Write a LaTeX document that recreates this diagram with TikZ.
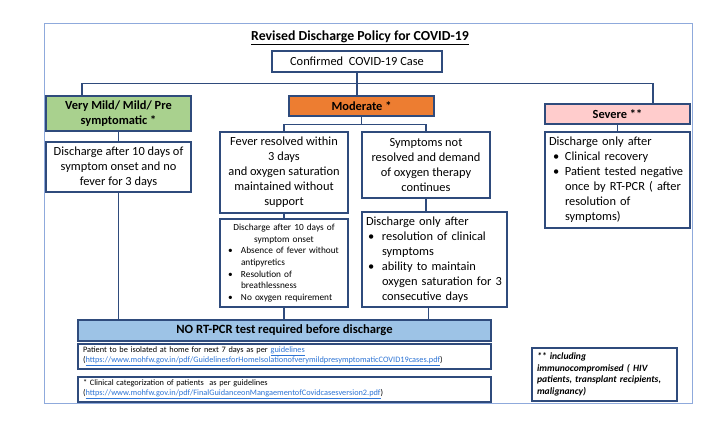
\documentclass[tikz,border=0pt]{standalone}
\usepackage{fontspec}
\setmainfont{Carlito}
\definecolor{navy}{HTML}{2F4B7C}
\definecolor{frameblue}{HTML}{8FAADC}
\definecolor{mildgreen}{HTML}{A9D18E}
\definecolor{modorange}{HTML}{ED7D31}
\definecolor{sevpink}{HTML}{FFCCCC}
\definecolor{pcrblue}{HTML}{9DC3E6}
\definecolor{linkblue}{HTML}{2E75D6}
% bullet: indent, then bullet box of given width
\newcommand{\bl}[2]{\hspace*{#1}\makebox[#2][l]{\textbullet}}
\newcommand{\link}[1]{\textcolor{linkblue}{\underline{#1}}}

\begin{document}
\begin{tikzpicture}[x=1pt,y=-1pt,
  box/.style={draw=navy,line width=1.5pt,fill=white,inner sep=2pt,align=center,
    font=\fontsize{12.4}{15}\selectfont},
  head/.style={box,font=\fontsize{12.4}{15}\selectfont\bfseries},
  list/.style={box,align=left,inner xsep=4pt},
  note/.style={box,align=left,inner xsep=5pt,font=\fontsize{8.3}{10}\selectfont},
  conn/.style={navy,line width=1.5pt}]
% FRAME
\useasboundingbox (0,0) rectangle (713,430);
\draw [frameblue,line width=1pt,fill=white] (44,24) rectangle (692,404);
% TITLE AND ROOT
\node (title) at (360,38) {\fontsize{13.8}{15}\selectfont\bfseries\underline{Revised Discharge Policy for COVID-19}};
\node [box,minimum width=170pt,minimum height=21pt] (conf) at (357,61.5) {Confirmed\ \ COVID-19 Case};
% CATEGORIES
\node [head,fill=mildgreen,minimum width=145pt,minimum height=35pt] (mild) at (118.5,113.5) {Very Mild/ Mild/ Pre\\symptomatic *};
\node [head,fill=modorange,minimum width=145pt,minimum height=20pt] (mod) at (361.5,106) {Moderate *};
\node [head,fill=sevpink,minimum width=145pt,minimum height=20pt] (sev) at (617.5,114) {Severe **};
% MILD BRANCH
\node [box,minimum width=145pt,minimum height=50pt] (ldis) at (118.5,167) {Discharge after 10 days of\\symptom onset and no\\fever for 3 days};
% MODERATE BRANCH
\node [box,minimum width=128pt,minimum height=81pt] (fever) at (284,172.5) {Fever resolved within\\3 days\\and oxygen saturation\\maintained without\\support};
\node [box,minimum width=128pt,minimum height=66pt] (symp) at (426,165) {Symptoms not\\resolved and demand\\of oxygen therapy\\continues};
\node [box,align=left,text width=124pt,minimum height=88pt,font=\fontsize{9.3}{11.7}\selectfont] (mdis) at (284,263) {\makebox[124pt]{Discharge after 10 days of}\\\makebox[124pt]{symptom onset}\\
  \bl{6pt}{13pt}Absence of fever without\\\hspace*{19pt}antipyretics\\
  \bl{6pt}{13pt}Resolution of\\\hspace*{19pt}breathlessness\\
  \bl{6pt}{13pt}No oxygen requirement};
\node [list,text width=137pt,minimum height=95pt] (rdis) at (434.5,259.5) {Discharge only after\\
  \bl{2pt}{14pt}resolution of clinical\\\hspace*{16pt}symptoms\\
  \bl{2pt}{14pt}ability to maintain\\\hspace*{16pt}oxygen saturation for 3\\\hspace*{16pt}consecutive days};
% SEVERE BRANCH
\node [list,text width=137pt,minimum height=96pt] (sdis) at (617.5,180) {Discharge only after\\
  \bl{4pt}{12pt}Clinical recovery\\
  \bl{4pt}{12pt}Patient tested negative\\\hspace*{16pt}once by RT-PCR ( after\\\hspace*{16pt}resolution of\\\hspace*{16pt}symptoms)};
% BOTTOM BOXES
\node [head,fill=pcrblue,minimum width=413pt,minimum height=21pt,font=\fontsize{12.6}{14}\selectfont\bfseries] (nopcr) at (284.5,330.5) {NO RT-PCR test required before discharge};
\node [note,text width=403pt,minimum height=25pt] (iso) at (284.5,356.5) {Patient to be isolated at home for next 7 days as per \link{guidelines}\\(\link{https://www.mohfw.gov.in/pdf/GuidelinesforHomeIsolationofverymildpresymptomaticCOVID19cases.pdf})};
\node [note,text width=403pt,minimum height=25pt] (clin) at (284.5,389.5) {* Clinical categorization of patients\ \ as per guidelines\\(\link{https://www.mohfw.gov.in/pdf/FinalGuidanceonMangaementofCovidcasesversion2.pdf})};
\node [note,text width=135pt,minimum height=53pt,font=\fontsize{9.6}{11.5}\selectfont\bfseries\itshape] (immu) at (604.5,374.5) {** including\\immunocompromised ( HIV\\patients, transplant recipients,\\malignancy)};
% CONNECTORS
\draw [conn] (conf.south) -- ++(0,11) coordinate (split) -| ([xshift=-36.5pt]mild.north);
\draw [conn] (split) -| ([xshift=35.5pt]sev.north);
\draw [conn] (conf.south) -- (conf.south |- mod.north);
\draw [conn] (mild.south) -- (ldis.north);
\draw [conn] (ldis.south) -- (ldis.south |- nopcr.north);
\draw [conn] (mod.south) -- ++(0,8) coordinate (msplit) -| (fever.north);
\draw [conn] (msplit) -| (symp.north);
\draw [conn] (fever.south) -- (mdis.north);
\draw [conn] (symp.south) -- (symp.south |- rdis.north);
\draw [conn] (mdis.south) -- (mdis.south |- nopcr.north);
\draw [conn] ([xshift=-6pt]rdis.south) -- ([xshift=-6pt]rdis.south |- nopcr.north);
\draw [conn] (sev.south) -- (sdis.north);
\end{tikzpicture}
\end{document}
